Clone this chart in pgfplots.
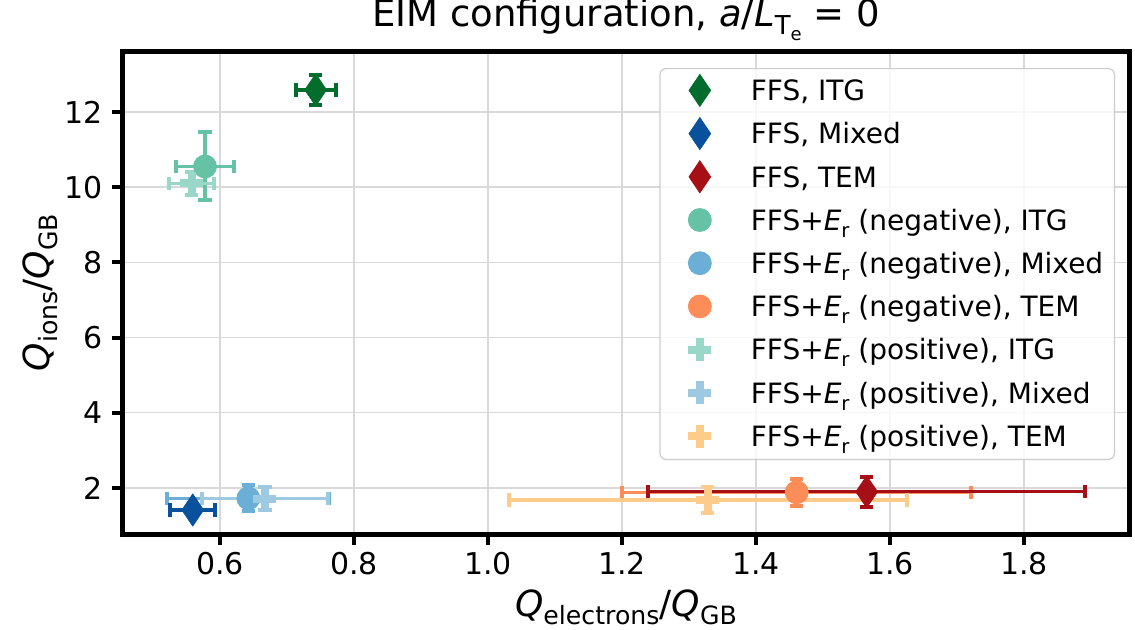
\documentclass[border=0pt]{standalone}
\usepackage{fontspec}
\setmainfont{DejaVu Sans}
\usepackage{pgfplots}
\pgfplotsset{compat=1.18}

\definecolor{ffsitg}{HTML}{006D2C}
\definecolor{ffsmix}{HTML}{08519C}
\definecolor{ffstem}{HTML}{A50F15}
\definecolor{negitg}{HTML}{66C2A4}
\definecolor{negmix}{HTML}{6BAED6}
\definecolor{negtem}{HTML}{FC8D59}
\definecolor{positg}{HTML}{99D8C9}
\definecolor{posmix}{HTML}{9ECAE1}
\definecolor{postem}{HTML}{FDCC8A}

% subscript: size (pt), drop, text
\newcommand{\sbs}[3]{\raisebox{-#2}{\fontsize{#1}{#1}\selectfont #3}}
\newcommand{\Er}{\textit{E}\sbs{9.8}{3.5pt}{r}}
\newcommand{\Qlab}[1]{\textit{Q}\sbs{12.6}{4pt}{#1}/\textit{Q}\sbs{12.6}{4pt}{GB}}

\pgfplotsset{
  ffs/.style={only marks, color=#1, mark=diamond*, mark size=8pt,
    mark options={xscale=0.9, line width=0.4pt, solid, fill=#1, draw=#1}},
  neg/.style={only marks, color=#1, mark=*, mark size=5.75pt,
    mark options={line width=0.4pt, solid, fill=#1, draw=#1}},
  pos/.style={only marks, color=#1, mark=+, mark size=5.75pt,
    mark options={line width=4pt, solid, draw=#1}},
  eb/.style={error bars/.cd, x dir=both, x explicit, y dir=both, y explicit,
    error bar style={line width=1.6pt, color=#1, solid},
    error mark options={rotate=90, line width=2pt, mark size=3.3pt, color=#1}},
}

\begin{document}
\begin{tikzpicture}
\begin{axis}[
  scale only axis, width=503pt, height=241.5pt,
  xmin=0.4552, xmax=1.9567, ymin=0.777, ymax=13.62,
  xtick={0.6,0.8,1.0,1.2,1.4,1.6,1.8},
  ytick={2,4,6,8,10,12},
  /pgf/number format/assume math mode=true,
  ticklabel style={font=\fontsize{15}{18}\selectfont},
  xticklabel style={inner sep=3.5pt, /pgf/number format/fixed,
    /pgf/number format/fixed zerofill, /pgf/number format/precision=1},
  yticklabel style={inner sep=4.5pt},
  grid=major, major grid style={line width=0.7pt, color=black!15},
  axis line style={line width=2.5pt, black},
  tick pos=left, tick align=outside, major tick length=5.5pt,
  tick style={line width=2pt, black},
  title={EIM configuration, \textit{a}/\textit{L}\sbs{13}{4.4pt}{T\sbs{9}{3pt}{e}} = 0},
  title style={font=\fontsize{18.5}{22}\selectfont, at={(0.5,1)}, anchor=base, yshift=6.5pt},
  xlabel={\Qlab{electrons}},
  ylabel={\Qlab{ions}},
  xlabel style={font=\fontsize{18}{22}\selectfont, at={(0.5,0)}, anchor=base, yshift=-41pt},
  ylabel style={font=\fontsize{18}{22}\selectfont, at={(0,0.5)}, anchor=center, yshift=41.5pt},
  legend image code/.code={
    \path (0pt,0pt) (28pt,0pt);
    \draw[#1, fill opacity=1, draw opacity=1] plot coordinates {(14pt,5.1pt)};
  },
  legend cell align=left,
  legend style={at={(1,1)}, anchor=north east, xshift=-7pt, yshift=-8.5pt,
    draw=black!20, line width=0.6pt, rounded corners=3pt,
    fill=white, fill opacity=0.8, draw opacity=1, text opacity=1,
    inner xsep=5.6pt, inner ysep=0.5pt, row sep=0pt, column sep=11.2pt,
    font=\fontsize{14}{16.8}\selectfont,
    nodes={inner sep=0pt, anchor=base west, text height=15.5pt, text depth=6.1pt}},
]
% legend, in the order of the reference
\addlegendimage{ffs=ffsitg}\addlegendentry{FFS, ITG}
\addlegendimage{ffs=ffsmix}\addlegendentry{FFS, Mixed}
\addlegendimage{ffs=ffstem}\addlegendentry{FFS, TEM}
\addlegendimage{neg=negitg}\addlegendentry{FFS+\Er{} (negative), ITG}
\addlegendimage{neg=negmix}\addlegendentry{FFS+\Er{} (negative), Mixed}
\addlegendimage{neg=negtem}\addlegendentry{FFS+\Er{} (negative), TEM}
\addlegendimage{pos=positg}\addlegendentry{FFS+\Er{} (positive), ITG}
\addlegendimage{pos=posmix}\addlegendentry{FFS+\Er{} (positive), Mixed}
\addlegendimage{pos=postem}\addlegendentry{FFS+\Er{} (positive), TEM}

% E_r negative
\addplot[forget plot, neg=negitg, eb=negitg] coordinates {(0.5776,10.55) +- (0.044,0.905)};
\addplot[forget plot, neg=negmix, eb=negmix] coordinates {(0.6423,1.726) +- (0.121,0.35)};
\addplot[forget plot, neg=negtem, eb=negtem] coordinates {(1.4607,1.886) +- (0.260,0.36)};
% E_r positive
\addplot[forget plot, pos=positg, eb=positg] coordinates {(0.5578,10.10) +- (0.0336,0.30)};
\addplot[forget plot, pos=posmix, eb=posmix] coordinates {(0.667,1.72) +- (0.094,0.30)};
\addplot[forget plot, pos=postem, eb=postem] coordinates {(1.328,1.68) +- (0.297,0.35)};
% FFS
\addplot[forget plot, ffs=ffsitg, eb=ffsitg] coordinates {(0.7428,12.585) +- (0.030,0.39)};
\addplot[forget plot, ffs=ffsmix, eb=ffsmix] coordinates {(0.5593,1.415) +- (0.0336,0.05)};
\addplot[forget plot, ffs=ffstem, eb=ffstem] coordinates {(1.5652,1.90) +- (0.326,0.40)};
\end{axis}
\pgfresetboundingbox
\path (-61.5pt,-47.5pt) rectangle (506pt,267pt);
\end{tikzpicture}
\end{document}
